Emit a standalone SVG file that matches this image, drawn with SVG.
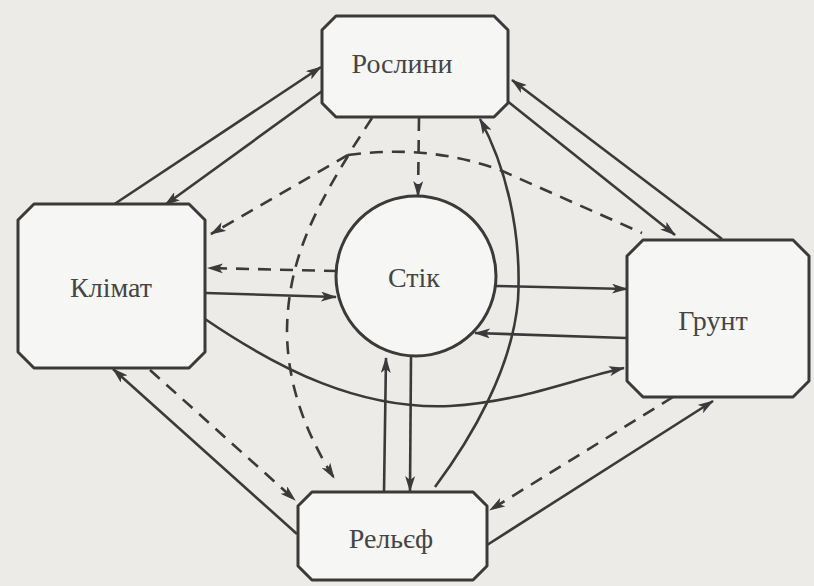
<svg xmlns="http://www.w3.org/2000/svg" width="814" height="586" viewBox="0 0 814 586">
<style>
.box{fill:#f6f6f4;stroke:#3a3a3a;stroke-width:3;stroke-linejoin:round}
.lbl{font-family:"Liberation Serif","Times New Roman",serif;font-size:28px;fill:#454545;text-anchor:middle}
.s{fill:none;stroke:#3a3a3a;stroke-width:2.6}
.d{fill:none;stroke:#3a3a3a;stroke-width:2.6;stroke-dasharray:13 9}
.a{marker-end:url(#ah)}
</style>
<defs>
<marker id="ah" viewBox="0 0 16 10" refX="15" refY="5" markerWidth="16" markerHeight="10" orient="auto" markerUnits="userSpaceOnUse">
<path d="M0,0 L16,5 L0,10 L4,5 Z" fill="#3a3a3a"/>
</marker>
</defs>
<rect width="814" height="586" fill="#ecebe7"/>

<g id="connectors">
<!-- Klimat <-> Roslyny -->
<path class="s a" d="M113,205 L321,67"/>
<path class="s a" d="M325,89 L165,205"/>
<!-- Roslyny <-> Grunt -->
<path class="s a" d="M722,239 L512,80"/>
<path class="s a" d="M506,100 L675,235"/>
<!-- Klimat <-> Stik -->
<path class="s a" d="M206,293 L336,297"/>
<path class="d a" d="M337,271 L208,268"/>
<!-- Stik <-> Grunt -->
<path class="s a" d="M496,286 L627,289"/>
<path class="s a" d="M626,338 L475,333"/>
<!-- Klimat -> Grunt curve -->
<path class="s a" d="M205,319 C280,370 360,410 450,406 C520,402 570,380 624,368"/>
<!-- Relief <-> Stik -->
<path class="s a" d="M384,492 L386,358"/>
<path class="s a" d="M411,357 L410,491"/>
<!-- Relief -> Roslyny curve -->
<path class="s a" d="M435,487 C470,440 512,370 518,300 C522,230 505,165 480,119"/>
<!-- Klimat <-> Relief -->
<path class="s a" d="M297,534 L113,369"/>
<path class="d a" d="M150,370 L295,500"/>
<!-- Relief <-> Grunt -->
<path class="s a" d="M487,545 L713,401"/>
<path class="d a" d="M673,397 L490,510"/>
<!-- dashed network from Roslyny -->
<path class="d a" d="M372,118 L348,155 L211,234"/>
<path class="d a" d="M348,156 C315,210 288,260 287,330 C287,390 310,440 334,478"/>
<path class="d" d="M348,155 C400,148 450,152 500,170 L642,233"/>
<path class="d a" d="M419,118 L418,196"/>
</g>

<g id="roslyny">
<path class="box" d="M336,16 H494 L508,30 V103 L494,117 H336 L322,103 V30 Z"/>
<text class="lbl" x="402" y="73">Рослини</text>
</g>
<g id="klimat">
<path class="box" d="M34,204 H189 L205,220 V352 L189,368 H34 L18,352 V220 Z"/>
<text class="lbl" x="111" y="297">Клімат</text>
</g>
<g id="grunt">
<path class="box" d="M643,240 H793 L809,256 V381 L793,397 H643 L627,381 V256 Z"/>
<text class="lbl" x="713" y="330">Грунт</text>
</g>
<g id="relief">
<path class="box" d="M312,492 H473 L487,506 V566 L473,580 H312 L298,566 V506 Z"/>
<text class="lbl" x="391" y="548">Рельєф</text>
</g>
<g id="stik">
<circle cx="416" cy="276" r="80" fill="#f6f6f4" stroke="#3a3a3a" stroke-width="3"/>
<text class="lbl" x="414" y="287">Стік</text>
</g>
</svg>
